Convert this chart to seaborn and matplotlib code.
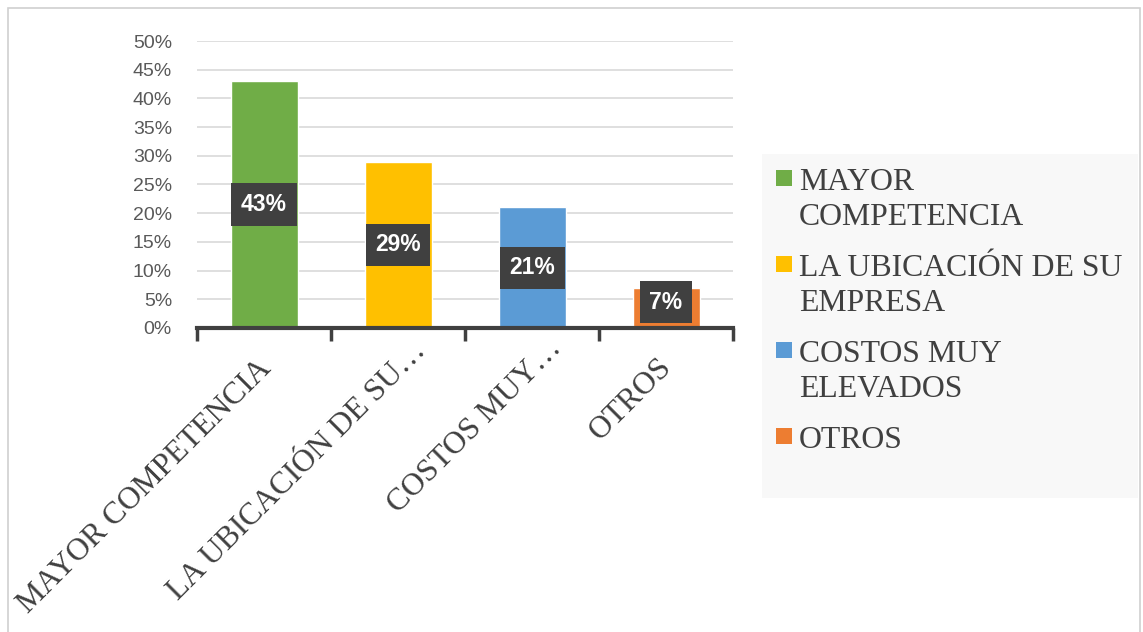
import matplotlib
matplotlib.use("Agg")

import pandas as pd
import matplotlib.pyplot as plt
import matplotlib.patches as mpatches
import matplotlib.ticker as mticker
import matplotlib.transforms as mtransforms
import seaborn as sns

# data
categories = ["MAYOR COMPETENCIA", "LA UBICACIÓN DE SU EMPRESA", "COSTOS MUY ELEVADOS", "OTROS"]
tick_labels = ["MAYOR COMPETENCIA", "LA UBICACIÓN DE SU…", "COSTOS MUY…", "OTROS"]
legend_labels = ["MAYOR\nCOMPETENCIA", "LA UBICACIÓN DE SU\nEMPRESA", "COSTOS MUY\nELEVADOS", "OTROS"]
values = [0.43, 0.29, 0.21, 0.07]
colors = ["#70ad47", "#ffc000", "#5b9bd5", "#ed7d31"]

sns.set_theme(style="white")
plt.rcParams['font.family'] = ['Liberation Sans', 'DejaVu Sans']

df = pd.DataFrame({"cat": categories, "val": values})

fig = plt.figure(figsize=(11.43, 6.32), dpi=100)
ax = fig.add_axes([197 / 1143, 1 - 328 / 632, (733 - 197) / 1143, (328 - 41) / 632])

sns.barplot(data=df, x="cat", y="val", hue="cat", palette=colors, dodge=False,
            width=0.5, legend=False, ax=ax, saturation=1, zorder=3)

ax.set_ylim(0, 0.5)
ax.set_xlim(-0.5, 3.5)
ax.yaxis.set_major_locator(mticker.MultipleLocator(0.05))
ax.yaxis.set_major_formatter(mticker.PercentFormatter(1.0, decimals=0))
ax.grid(axis="y", color="#d9d9d9", linewidth=1.2, zorder=0)
ax.tick_params(axis="y", labelsize=14, labelcolor="#595959", length=0, pad=18)

for s in ["left", "right", "top"]:
    ax.spines[s].set_visible(False)
ax.spines["bottom"].set_color("#404040")
ax.spines["bottom"].set_linewidth(3)
ax.spines["bottom"].set_zorder(4)

# tick marks between categories
ax.set_xticks([-0.5, 0.5, 1.5, 2.5, 3.5], minor=True)
ax.tick_params(axis="x", which="minor", bottom=True, length=9, width=2.5, color="#404040")
ax.set_xticks(range(len(categories)))
ax.set_xticklabels(tick_labels, rotation=45, ha="right", rotation_mode="anchor",
                   family=["Liberation Serif"], fontsize=22.7, color="#404040")
ax.tick_params(axis="x", which="major", length=0, pad=17)
ax.set_xlabel("")
ax.set_ylabel("")

# nudge tick labels (pixel offsets, y down)
nudges = [(-7, 3), (13, -15), (15, -18), (-9, 1)]
for lbl, (dx, dy) in zip(ax.get_xticklabels(), nudges):
    off = mtransforms.ScaledTranslation(dx / 100, -dy / 100, fig.dpi_scale_trans)
    lbl.set_transform(lbl.get_transform() + off)

# data labels
for i, v in enumerate(values):
    ypos = max(v / 2, 0.045)
    ax.text(i, ypos, f"{round(v * 100)}%", ha="center", va="center", color="white",
            fontsize=16.5, fontweight="bold", zorder=5,
            bbox=dict(boxstyle="square,pad=0.42", facecolor="#404040", edgecolor="none"))

# legend panel
fig.patches.append(mpatches.Rectangle((762 / 1143, 1 - 498 / 632), (1138 - 762) / 1143,
                                      (498 - 154) / 632, transform=fig.transFigure,
                                      facecolor="#f8f8f8", edgecolor="none", zorder=0))
y0 = 178
for lab, col in zip(legend_labels, colors):
    fig.patches.append(mpatches.Rectangle((776 / 1143, 1 - (y0 + 8) / 632), 16 / 1143, 16 / 632,
                                          transform=fig.transFigure, facecolor=col,
                                          edgecolor="none", zorder=2))
    fig.text(799 / 1143, 1 - (y0 - 10.5) / 632, lab, ha="left", va="top",
             family=["Liberation Serif"], fontsize=22.9, color="#404040",
             linespacing=1.29)
    y0 += 36 * lab.count("\n") + 50

# outer frame
fig.patches.append(mpatches.Rectangle((8 / 1143, -0.05), (1140 - 8) / 1143, 1.05 - 8 / 632,
                                      transform=fig.transFigure, facecolor="none",
                                      edgecolor="#d0d0d0", linewidth=1.2, zorder=1))

fig.savefig("out.png", dpi=100)
